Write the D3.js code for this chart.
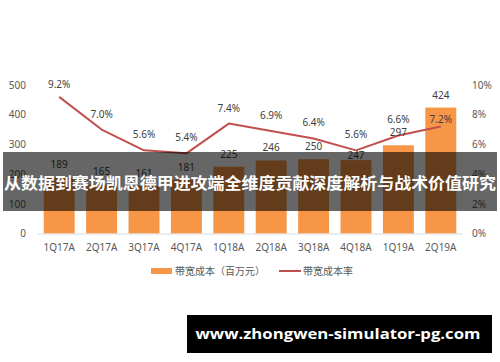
<!DOCTYPE html>
<html><head><meta charset="utf-8">
<script src="https://cdn.jsdelivr.net/npm/d3@7/dist/d3.min.js"></script>
<style>html,body{margin:0;padding:0;background:#fff;}svg{display:block;}</style>
</head><body><svg id="c" width="500" height="362"></svg>
<script>
const categories = ["1Q17A","2Q17A","3Q17A","4Q17A","1Q18A","2Q18A","3Q18A","4Q18A","1Q19A","2Q19A"];
const costValues = [189,165,161,181,225,246,250,247,297,424];
const rateValues = [9.2,7.0,5.6,5.4,7.4,6.9,6.4,5.6,6.6,7.2];
const leftTicks = [0,100,200,300,400,500];
const rightTicks = [0,2,4,6,8,10];
const seriesNames = ["带宽成本（百万元）","带宽成本率"];
const bannerText = "从数据到赛场凯恩德甲进攻端全维度贡献深度解析与战术价值研究";
const watermark = "www.zhongwen-simulator-pg.com";

const svg = d3.select("#c");
const font = "'Noto Sans','Noto Sans CJK SC',sans-serif";
const x = d3.scaleBand().domain(categories).range([38,462]).paddingInner(0.27).paddingOuter(0.135);
const yL = d3.scaleLinear().domain([0,500]).range([233.5,85]);
const yR = d3.scaleLinear().domain([0,10]).range([233.5,85]);
const orange = "#F79646", red = "#C0504D", txt = "#595959";

// bars
svg.append("g").selectAll("rect").data(costValues).join("rect")
  .attr("x",(d,i)=>x(categories[i])).attr("width",x.bandwidth())
  .attr("y",d=>yL(d)).attr("height",d=>yL(0)-yL(d)).attr("fill",orange);

// baseline
svg.append("line").attr("x1",38).attr("x2",462).attr("y1",yL(0)+0.5).attr("y2",yL(0)+0.5)
  .attr("stroke","#d9d9d9").attr("stroke-width",1);

// left axis
const gl = svg.append("g").attr("transform","translate(26,0)")
  .call(d3.axisLeft(yL).tickValues(leftTicks).tickSize(0).tickPadding(0));
gl.select(".domain").remove();
gl.selectAll("text").attr("fill",txt).style("font-family",font).style("font-size","10px");

// right axis
const gr = svg.append("g").attr("transform","translate(472,0)")
  .call(d3.axisRight(yR).tickValues(rightTicks).tickSize(0).tickPadding(0).tickFormat(d=>d+"%"));
gr.select(".domain").remove();
gr.selectAll("text").attr("fill",txt).style("font-family",font).style("font-size","10px");

// bottom axis
const gb = svg.append("g").attr("transform",`translate(0,${yL(0)})`)
  .call(d3.axisBottom(x).tickSize(0).tickPadding(10));
gb.select(".domain").remove();
gb.selectAll("text").attr("fill",txt).style("font-family",font).style("font-size","10px");

// line
const line = d3.line().x((d,i)=>x(categories[i])+x.bandwidth()/2).y(d=>yR(d));
svg.append("path").datum(rateValues).attr("d",line).attr("fill","none")
  .attr("stroke",red).attr("stroke-width",2).attr("stroke-linejoin","round");

// bar labels
svg.append("g").selectAll("text").data(costValues).join("text")
  .attr("x",(d,i)=>x(categories[i])+x.bandwidth()/2)
  .attr("y",(d,i)=>yL(d)-(i===7?5:12.5)).attr("dy","0.35em")
  .attr("text-anchor","middle").attr("fill","#404040")
  .style("font-family",font).style("font-size","10px").text(d=>d);

// line labels
svg.append("g").selectAll("text").data(rateValues).join("text")
  .attr("x",(d,i)=>x(categories[i])+x.bandwidth()/2)
  .attr("y",(d,i)=>yR(d)-(i===0?12.5:(i===rateValues.length-1?7.5:15.5))).attr("dy","0.35em")
  .attr("text-anchor","middle").attr("fill","#404040")
  .style("font-family",font).style("font-size","10px").text(d=>d.toFixed(1)+"%");

// legend
const lg = svg.append("g");
lg.append("rect").attr("x",151).attr("y",268).attr("width",21).attr("height",6).attr("fill",orange);
lg.append("text").attr("x",175).attr("y",271).attr("dy","0.35em").attr("fill",txt)
  .style("font-family",font).style("font-size","10px").text(seriesNames[0]);
lg.append("line").attr("x1",279).attr("x2",301).attr("y1",271).attr("y2",271).attr("stroke",red).attr("stroke-width",2);
lg.append("text").attr("x",303).attr("y",271).attr("dy","0.35em").attr("fill",txt)
  .style("font-family",font).style("font-size","10px").text(seriesNames[1]);

// banner
svg.append("rect").attr("x",3).attr("y",152).attr("width",494).attr("height",59).attr("fill","rgba(0,0,0,0.6)");
svg.append("text").attr("x",250).attr("y",183).attr("dy","0.35em").attr("text-anchor","middle")
  .attr("fill","#fff").style("font-family","'Noto Sans CJK SC',sans-serif").style("font-weight","bold")
  .style("font-size","16px").attr("textLength",492).attr("lengthAdjust","spacingAndGlyphs").text(bannerText);

// watermark
svg.append("rect").attr("x",187).attr("y",315).attr("width",305).attr("height",38).attr("fill","#000");
svg.append("text").attr("x",338).attr("y",334).attr("dy","0.35em").attr("text-anchor","middle")
  .attr("fill","#fff").style("font-family","'Open Sans',sans-serif").style("font-weight","bold")
  .style("font-size","15px").attr("textLength",285).attr("lengthAdjust","spacingAndGlyphs").text(watermark);
</script></body></html>
